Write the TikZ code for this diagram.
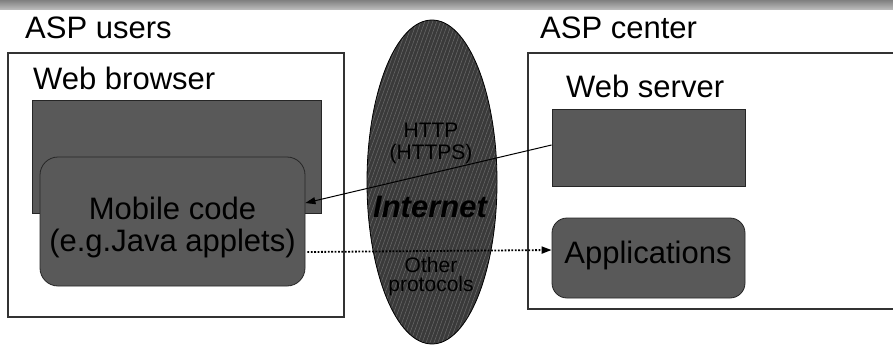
\documentclass[tikz,border=0pt]{standalone}
\usepackage{fontspec}
\setmainfont{Liberation Sans}
\usetikzlibrary{arrows.meta,patterns.meta,shapes.geometric,calc}
\definecolor{boxfill}{HTML}{595959}
\definecolor{netfill}{HTML}{3A3A3A}
\definecolor{nethatch}{HTML}{6A6A6A}
\definecolor{framecol}{HTML}{333333}

\begin{document}
\begin{tikzpicture}[x=1pt,y=-1pt,
  outerbox/.style={draw=framecol,line width=1.3pt,fill=white,inner sep=0pt},
  block/.style={draw=black!85,line width=0.8pt,fill=boxfill,inner sep=0pt},
  rblock/.style={block,rounded corners=#1},
  big/.style={font=\fontsize{31}{31}\selectfont,inner sep=0pt},
  small/.style={font=\fontsize{21}{21}\selectfont,inner sep=0pt},
  link/.style={line width=1pt,-{Triangle[length=10pt,width=7pt]}},
  dotlink/.style={line width=1.8pt,dash pattern=on 1.8pt off 1.6pt,-{Triangle[length=10pt,width=7pt]}},
]
\useasboundingbox (0,0) rectangle (893,345);
\clip (0,0) rectangle (893,345);

% title bar
\shade[top color=black!50,bottom color=black!25] (0,0) rectangle (893,10);

% headings
\node[big,anchor=base west] (users)  at (25,38)  {ASP users};
\node[big,anchor=base west] (center) at (540,38) {ASP center};

% client side
\node[outerbox,minimum width=336pt,minimum height=264pt] (lbox) at (176,185) {};
\node[big,anchor=base west] (wb) at (33,89) {Web browser};
\node[block,minimum width=289pt,minimum height=113pt] (browser) at (176.5,156.5) {};
\node[rblock=18pt,minimum width=265pt,minimum height=129pt] (mob) at (172.5,221.5) {};
\node[big,anchor=base] (mob1) at (172.5,219) {Mobile code};
\node[big,anchor=base] (mob2) at (172.5,251) {(e.g.Java applets)};

% server side
\node[outerbox,minimum width=377pt,minimum height=256pt] (rbox) at (716.5,181) {};
\node[big,anchor=base west] (wsl) at (566,97) {Web server};
\node[block,minimum width=193pt,minimum height=77pt] (ws) at (648.5,147.5) {};
\node[rblock=15pt,minimum width=193pt,minimum height=80pt] (apps) at (648.5,258) {};
\node[big,anchor=base] (appl) at (648,263) {Applications};

% the Internet cloud
\node[ellipse,draw=black,line width=0.8pt,inner sep=0pt,
      minimum width=130pt,minimum height=324pt,
      preaction={fill=netfill},
      pattern={Lines[angle=70,distance=3.7pt,line width=0.5pt]},
      pattern color=nethatch] (net) at (432,182) {};
\node[small,anchor=base] (http)  at (431,137) {HTTP};
\node[small,anchor=base] (https) at (431,159) {(HTTPS)};
\node[font=\fontsize{31}{31}\selectfont\bfseries\itshape,inner sep=0pt,anchor=base] (inet) at (430,217) {Internet};
\node[small,anchor=base] (other) at (431,272) {Other};
\node[small,anchor=base] (proto) at (431,291) {protocols};

% connections
\draw[link] ($(ws.west)+(0,-2.5)$) -- ($(mob.east)+(0,-18.5)$);
\draw[dotlink] ($(mob.east)+(2,30.5)$) -- ($(apps.west)+(0,-8)$);
\end{tikzpicture}
\end{document}
